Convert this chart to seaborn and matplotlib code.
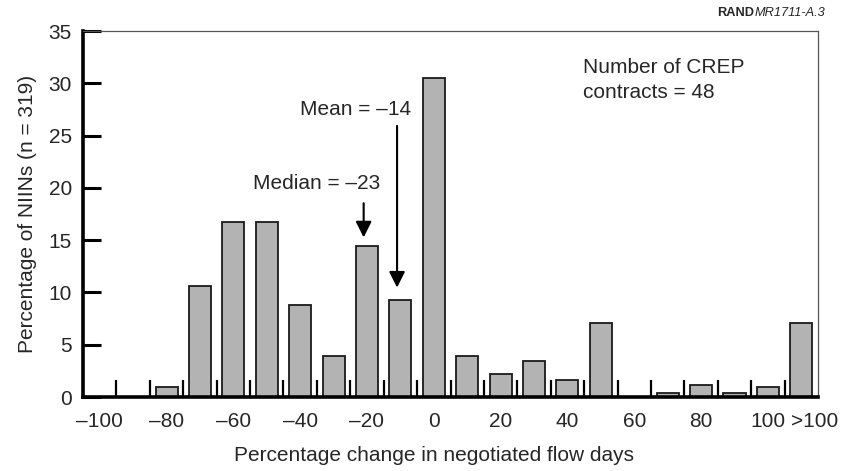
#!/usr/bin/python3

#Import required packages-----------------------------------------------------------------------------
import matplotlib
matplotlib.use("Agg")
import matplotlib.pyplot as plt
import seaborn as sns
from matplotlib.ticker import FixedLocator

#Data ------------------------------------------------------------------------------------------------
bins = ["–100", "–90", "–80", "–70", "–60", "–50", "–40", "–30", "–20", "–10", "0",
        "10", "20", "30", "40", "50", "60", "70", "80", "90", "100", ">100"]
pct_niins = [0, 0, 0.94, 10.66, 16.75, 16.75, 8.78, 3.96, 14.42, 9.3, 30.5,
             3.96, 2.2, 3.45, 1.66, 7.05, 0, 0.38, 1.15, 0.38, 0.94, 7.05]
shown_labels = ["–100", "–80", "–60", "–40", "–20", "0", "20", "40", "60", "80", "100", ">100"]
y_ticks = [0, 5, 10, 15, 20, 25, 30, 35]

sns.set_style("white")
plt.rcParams['font.family'] = ['Liberation Sans', 'DejaVu Sans']
FS = 15

fig = plt.figure(figsize=(8.41, 4.71), dpi=100)
ax = fig.add_axes([0.0987, 0.157, 0.8740, 0.777])

sns.barplot(x=bins, y=pct_niins, order=bins, color="#b3b3b3", edgecolor="#1a1a1a",
            linewidth=1.3, width=0.66, saturation=1, ax=ax)

ax.set_xlim(-0.5, len(bins) - 0.5)
ax.set_ylim(0, 35)

#x ticks: labels every 20, >100 pushed a little right like the original
tick_pos = [bins.index(b) for b in shown_labels]
tick_pos[-1] = tick_pos[-1] + 0.4
ax.set_xticks(tick_pos)
ax.set_xticklabels(shown_labels, fontsize=FS)
ax.tick_params(axis='x', which='major', length=0, pad=11)
#small bin-boundary marks standing up from the baseline
ax.xaxis.set_minor_locator(FixedLocator([i + 0.5 for i in range(len(bins) - 1)]))
ax.tick_params(axis='x', which='minor', direction='in', length=12, width=1.6,
               color='black', bottom=True)

ax.set_yticks(y_ticks)
ax.set_yticklabels([str(t) for t in y_ticks], fontsize=FS)
ax.tick_params(axis='y', direction='in', length=13, width=2.2, color='black', pad=8, left=True)

for side in ['left', 'bottom']:
    ax.spines[side].set_linewidth(2.6)
    ax.spines[side].set_color('black')
for side in ['top', 'right']:
    ax.spines[side].set_linewidth(0.9)
    ax.spines[side].set_color('#555555')

ax.set_xlabel("Percentage change in negotiated flow days", fontsize=FS)
ax.xaxis.set_label_coords(0.478, -0.135)
ax.set_ylabel("Percentage of NIINs (n = 319)", fontsize=FS, labelpad=8)

#annotations
ax.text(bins.index("–20") - 1.5, 20.4, "Median = –23", fontsize=FS, ha='center', va='center')
ax.annotate("", xy=(bins.index("–20") - 0.1, 15.0), xytext=(bins.index("–20") - 0.1, 18.8),
            arrowprops=dict(arrowstyle='-|>', color='black', lw=1.5, mutation_scale=24))
ax.text(bins.index("–10") - 1.35, 27.5, "Mean = –14", fontsize=FS, ha='center', va='center')
ax.annotate("", xy=(bins.index("–10") - 0.1, 10.2), xytext=(bins.index("–10") - 0.1, 26.2),
            arrowprops=dict(arrowstyle='-|>', color='black', lw=1.5, mutation_scale=24))
ax.text(bins.index("40") + 0.48, 32.4, "Number of CREP\ncontracts = 48", fontsize=FS,
        ha='left', va='top', linespacing=1.35)

#figure id at top right
fig.text(0.897, 0.972, "RAND", fontsize=9.2, fontweight='bold', ha='right', va='center')
fig.text(0.897, 0.972, "MR1711-A.3", fontsize=9.2, style='italic', ha='left', va='center')

fig.savefig("out.png", dpi=100)
